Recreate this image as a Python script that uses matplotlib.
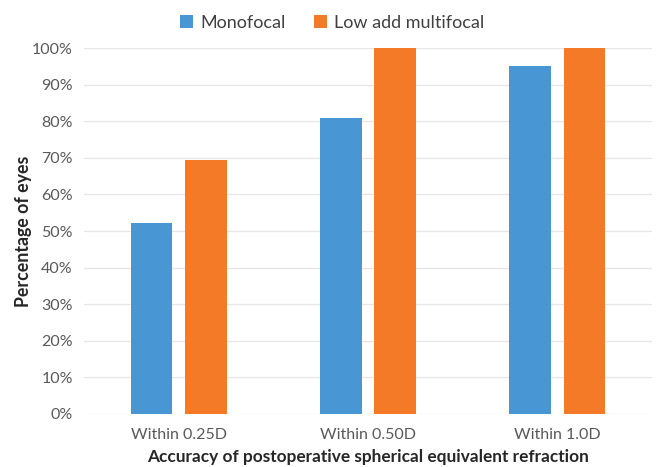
import numpy as np
import matplotlib
matplotlib.use("Agg")
import matplotlib.pyplot as plt
from matplotlib.ticker import PercentFormatter

plt.rcParams['font.family'] = ['Lato', 'DejaVu Sans']

categories = ["Within 0.25D", "Within 0.50D", "Within 1.0D"]
monofocal = [52.3, 80.9, 95.1]
low_add = [69.5, 100, 100]
series_names = ["Monofocal", "Low add multifocal"]

blue = "#4896D3"
orange = "#F47A28"
text_col = "#595959"

fig = plt.figure(figsize=(6.58, 4.67), dpi=100)
ax = fig.add_axes([0.1277, 0.1141, 0.8633, 0.7825])

x = np.arange(len(categories))
w = 0.22
off = 0.143
ax.bar(x - off, monofocal, w, color=blue, label=series_names[0], zorder=3)
ax.bar(x + off, low_add, w, color=orange, label=series_names[1], zorder=3)

ax.set_xlim(-0.5, len(categories) - 0.5)
ax.set_ylim(0, 100)
ax.set_yticks(np.arange(0, 101, 10))
ax.yaxis.set_major_formatter(PercentFormatter(decimals=0))
ax.set_xticks(x)
ax.set_xticklabels(categories)
ax.grid(axis='y', color="#E6E6E6", linewidth=0.9, zorder=0)
for s in ax.spines.values():
    s.set_visible(False)
ax.tick_params(axis='both', length=0, labelsize=11.5, colors=text_col, pad=8)
ax.tick_params(axis='x', pad=10)

ax.set_ylabel("Percentage of eyes", fontsize=12.8, fontweight='bold', color="#262626", labelpad=0)
ax.set_xlabel("Accuracy of postoperative spherical equivalent refraction",
              fontsize=12.4, fontweight='bold', color="#262626", labelpad=5)

fig.legend(loc='center', bbox_to_anchor=(0.505, 0.951), ncol=2, frameon=False,
           fontsize=13, handlelength=0.7, handleheight=0.7, handletextpad=0.4,
           columnspacing=1.6, labelcolor="#404040")

fig.savefig("out.png", dpi=100)
